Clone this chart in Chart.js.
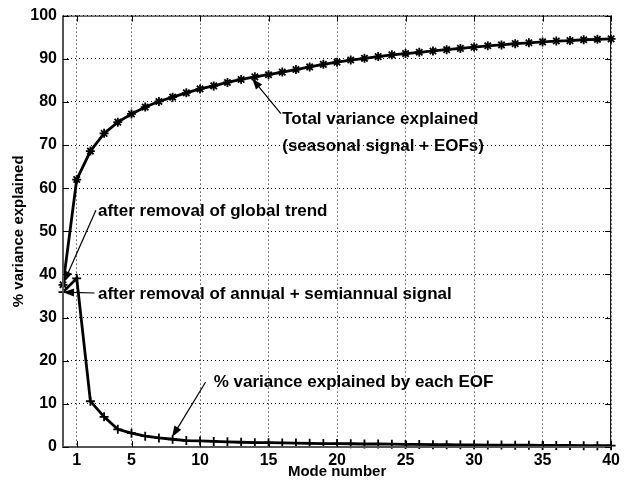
<!DOCTYPE html>
<html>
<head>
<meta charset="utf-8">
<script src="https://cdn.jsdelivr.net/npm/chart.js@4.4.0/dist/chart.umd.min.js"></script>
<style>
  html, body { margin: 0; padding: 0; background: #fff; }
</style>
</head>
<body>
<canvas id="eofChart" width="624" height="488"></canvas>
<script>
// mode numbers (x), 0 = seasonal signal only
const modes = [0, 1, 2, 3, 4, 5, 6, 7, 8, 9, 10, 11, 12, 13, 14, 15, 16, 17, 18, 19, 20,
  21, 22, 23, 24, 25, 26, 27, 28, 29, 30, 31, 32, 33, 34, 35, 36, 37, 38, 39, 40];

// total variance explained (seasonal signal + EOFs), %
const totalVar = [37.6, 62.0, 68.6, 72.7, 75.3, 77.2, 78.8, 80.1, 81.1, 82.1, 83.0,
  83.7, 84.5, 85.2, 85.8, 86.3, 86.9, 87.5, 88.1, 88.7, 89.2,
  89.7, 90.1, 90.5, 90.9, 91.2, 91.5, 91.8, 92.1, 92.4, 92.7,
  93.0, 93.2, 93.5, 93.7, 93.9, 94.1, 94.2, 94.4, 94.5, 94.6];

// variance explained by each EOF, %
const eofVar = [35.9, 39.1, 10.6, 7.0, 4.1, 3.2, 2.5, 2.1, 1.8, 1.5, 1.4,
  1.3, 1.2, 1.1, 1.0, 1.0, 0.95, 0.9, 0.85, 0.8, 0.8,
  0.75, 0.7, 0.7, 0.65, 0.6, 0.6, 0.55, 0.55, 0.5, 0.5,
  0.45, 0.45, 0.4, 0.4, 0.35, 0.35, 0.35, 0.3, 0.3, 0.3];

const xTicks = [1, 5, 10, 15, 20, 25, 30, 35, 40];
const yTicks = [0, 10, 20, 30, 40, 50, 60, 70, 80, 90, 100];

const FONT = "'Liberation Sans', Arial, Helvetica, sans-serif";

// text labels with arrows, positions in data units
const notes = [
  { lines: ['Total variance explained', '(seasonal signal + EOFs)'], at: [16.0, 76.0], gap: 6.4,
    from: [15.9, 77.3], to: [13.8, 85.4] },
  { lines: ['after removal of global trend'], at: [2.55, 54.7], from: [2.4, 54.9], to: [0.07, 38.2] },
  { lines: ['after removal of annual + semiannual signal'], at: [2.55, 35.5], from: [2.3, 35.7], to: [0.0, 35.9] },
  { lines: ['% variance explained by each EOF'], at: [11.0, 15.0], from: [10.4, 15.0], to: [7.96, 2.3] }
];

function arrow(ctx, x1, y1, x2, y2) {
  const ang = Math.atan2(y2 - y1, x2 - x1);
  const len = 11, hw = 4;
  ctx.beginPath();
  ctx.moveTo(x1, y1);
  ctx.lineTo(x2 - Math.cos(ang) * len * 0.8, y2 - Math.sin(ang) * len * 0.8);
  ctx.stroke();
  ctx.beginPath();
  ctx.moveTo(x2, y2);
  ctx.lineTo(x2 - Math.cos(ang) * len - Math.sin(ang) * hw, y2 - Math.sin(ang) * len + Math.cos(ang) * hw);
  ctx.lineTo(x2 - Math.cos(ang) * len + Math.sin(ang) * hw, y2 - Math.sin(ang) * len - Math.cos(ang) * hw);
  ctx.closePath();
  ctx.fill();
}

const framePlugin = {
  id: 'frame',
  afterDatasetsDraw(chart) {
    const { ctx, chartArea: a, scales: { x, y } } = chart;
    ctx.save();
    // box
    ctx.strokeStyle = '#000';
    ctx.lineWidth = 1;
    ctx.strokeRect(a.left + 0.5, a.top + 0.5, a.right - a.left - 1, a.bottom - a.top - 1);
    ctx.strokeStyle = '#555';
    ctx.lineWidth = 2;
    ctx.beginPath();
    ctx.moveTo(a.left, a.top);
    ctx.lineTo(a.left, a.bottom);
    ctx.lineTo(a.right, a.bottom);
    ctx.stroke();
    // inward tick marks
    ctx.strokeStyle = '#000';
    ctx.lineWidth = 1;
    ctx.beginPath();
    yTicks.forEach(v => {
      const py = Math.round(y.getPixelForValue(v)) + 0.5;
      ctx.moveTo(a.left, py); ctx.lineTo(a.left + 6, py);
      ctx.moveTo(a.right, py); ctx.lineTo(a.right - 6, py);
    });
    xTicks.forEach(v => {
      const px = Math.round(x.getPixelForValue(v)) + 0.5;
      ctx.moveTo(px, a.bottom); ctx.lineTo(px, a.bottom - 6);
      ctx.moveTo(px, a.top); ctx.lineTo(px, a.top + 6);
    });
    ctx.stroke();

    // annotations
    ctx.fillStyle = '#000';
    ctx.strokeStyle = '#000';
    ctx.lineWidth = 1.2;
    ctx.font = 'bold 17px ' + FONT;
    ctx.textAlign = 'left';
    ctx.textBaseline = 'middle';
    notes.forEach(n => {
      n.lines.forEach((t, i) => {
        ctx.fillText(t, x.getPixelForValue(n.at[0]), y.getPixelForValue(n.at[1] - i * (n.gap || 0)));
      });
      arrow(ctx, x.getPixelForValue(n.from[0]), y.getPixelForValue(n.from[1]),
        x.getPixelForValue(n.to[0]), y.getPixelForValue(n.to[1]));
    });
    ctx.restore();
  }
};

const lineStyle = {
  borderColor: '#000',
  backgroundColor: '#000',
  borderWidth: 2.8,
  pointRadius: 4.5,
  pointBorderWidth: 1.8,
  pointBorderColor: '#000',
  pointBackgroundColor: '#000',
  tension: 0,
  fill: false
};

const ctx = document.getElementById('eofChart').getContext('2d');
const eofChart = new Chart(ctx, {
  type: 'line',
  data: {
    datasets: [{
      ...lineStyle,
      label: 'Total variance explained',
      data: modes.map((m, i) => ({ x: m, y: totalVar[i] })),
      pointStyle: 'star'
    }, {
      ...lineStyle,
      label: '% variance explained by each EOF',
      data: modes.map((m, i) => ({ x: m, y: eofVar[i] })),
      pointStyle: 'cross'
    }]
  },
  options: {
    responsive: false,
    animation: false,
    clip: false,
    layout: { padding: { left: 6, right: 12, top: 15, bottom: 0 } },
    plugins: { legend: { display: false }, tooltip: { enabled: false } },
    scales: {
      x: {
        type: 'linear', min: 0, max: 40,
        afterBuildTicks: s => { s.ticks = xTicks.map(v => ({ value: v })); },
        afterFit: s => { s.height = 41; },
        grid: { color: '#000', lineWidth: 1, drawTicks: false },
        border: { display: false, dash: [1, 3] },
        ticks: { color: '#000', font: { family: FONT, size: 16, weight: 'bold' }, padding: 4, maxRotation: 0, autoSkip: false },
        title: { display: true, text: 'Mode number', color: '#000', font: { family: FONT, size: 15, weight: 'bold' }, padding: { top: 0, bottom: 7 } }
      },
      y: {
        min: 0, max: 100,
        afterBuildTicks: s => { s.ticks = yTicks.map(v => ({ value: v })); },
        afterFit: s => { s.width = 57; },
        grid: { color: '#000', lineWidth: 1, drawTicks: false },
        border: { display: false, dash: [1, 3] },
        ticks: { color: '#000', font: { family: FONT, size: 16, weight: 'bold' }, padding: 6 },
        title: { display: true, text: '% variance explained', color: '#000', font: { family: FONT, size: 15, weight: 'bold' }, padding: { top: 4, bottom: 0 } }
      }
    }
  },
  plugins: [framePlugin]
});
</script>
</body>
</html>
